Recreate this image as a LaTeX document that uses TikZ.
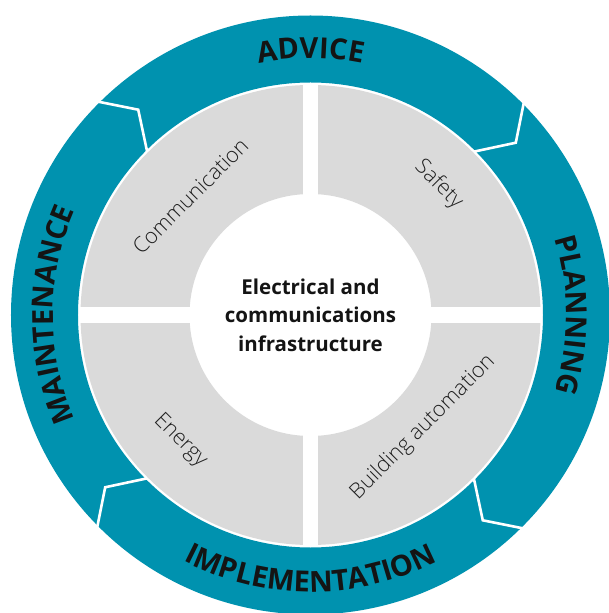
\documentclass[tikz,border=0pt]{standalone}
\usepackage{fontspec}
\setmainfont{Open Sans}
\IfFontExistsTF{Open Sans Light}{\newfontfamily\lightf{Open Sans Light}}{\newfontfamily\lightf{Open Sans}}
\usetikzlibrary{decorations.text}
\definecolor{ringteal}{HTML}{0092AF}
\definecolor{quadgray}{HTML}{DADADA}
\definecolor{labelgray}{HTML}{1E1E1E}
\newcommand\ringfont{\bfseries\fontsize{29}{29}\selectfont}
\tikzset{
  graylabel/.style={font=\lightf\fontsize{21.5}{21.5}\selectfont, text=labelgray, inner sep=0pt},
  corelabel/.style={align=center, font=\bfseries\fontsize{20.5}{28.4}\selectfont, text=black!92},
  chevron/.style={white, line width=2.6pt, line join=miter},
  ringtext/.style={decorate, decoration={text along path, text align=center, text color=black!92, text={|\ringfont|#1}}}
}
\begin{document}
\begin{tikzpicture}[x=1pt,y=1pt]
\useasboundingbox (-310.5,-298) rectangle (297.5,315);
% outer teal ring
\fill[ringteal, even odd rule] (0,0) circle[radius=299.5] (0,0) circle[radius=232.5];
% grey ring of four quadrants
\fill[quadgray, even odd rule] (0,0) circle[radius=230] (0,0) circle[radius=121];
\fill[white] (-7.8,-231) rectangle (7.8,231);
\fill[white] (-231,-8) rectangle (231,8);
% white chevrons splitting the ring into arrows
\foreach \a in {135,45,-45,-135}
  \draw[chevron] (\a:231) -- (\a-5:268) -- (\a:302);
% ring labels
\path[ringtext=ADVICE] (125:257) arc[start angle=125, end angle=55, radius=257];
\path[ringtext=PLANNING] (40:256) arc[start angle=40, end angle=-40, radius=256];
\path[ringtext=MAINTENANCE] (225:257.5) arc[start angle=225, end angle=135, radius=257.5];
\path[ringtext=IMPLEMENTATION] (222:277) arc[start angle=222, end angle=318, radius=277];
% quadrant labels
\node[graylabel, rotate=45] (comm) at (135.3:169) {Communication};
\node[graylabel, rotate=-45] (safety) at (45.5:183) {Safety};
\node[graylabel, rotate=-45] (energy) at (-136:181) {Energy};
\node[graylabel, rotate=45] (bauto) at (-45:159) {Building automation};
% centre
\node[corelabel] (core) at (0,0) {Electrical and\\communications\\infrastructure};
\end{tikzpicture}
\end{document}
